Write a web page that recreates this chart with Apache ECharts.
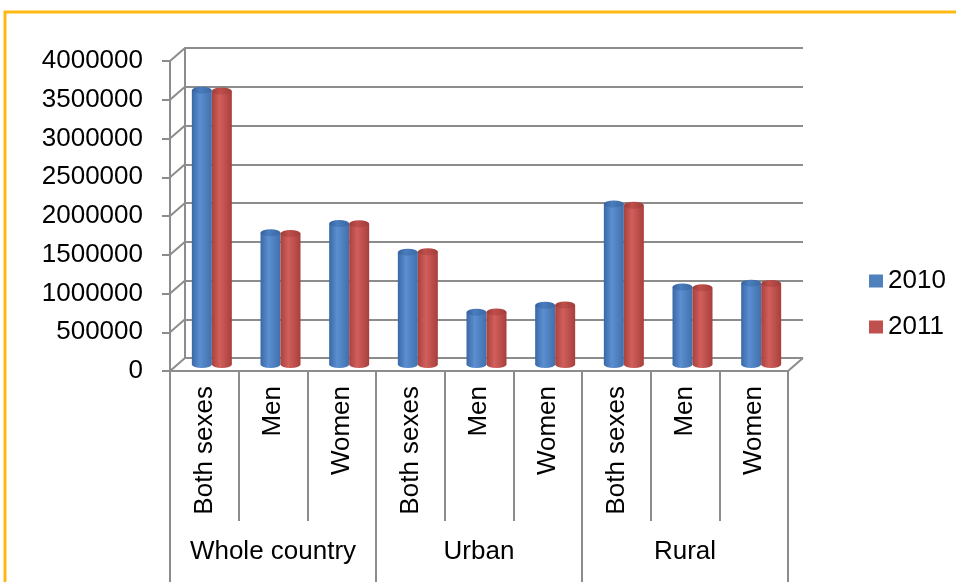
<!DOCTYPE html>
<html><head><meta charset="utf-8">
<script src="https://cdn.jsdelivr.net/npm/echarts@6/dist/echarts.min.js"></script>
<style>html,body{margin:0;padding:0;background:#fff}#c{width:956px;height:582px}</style>
</head><body><div id="c"></div>
<script>
// ---- data ----
const categories = ['Both sexes','Men','Women','Both sexes','Men','Women','Both sexes','Men','Women'];
const groups = ['Whole country','Urban','Rural'];
const seriesNames = ['2010','2011'];
const values2010 = [3540000,1700000,1820000,1450000,675000,765000,2070000,1000000,1050000];
const values2011 = [3530000,1690000,1815000,1455000,678000,768000,2055000,990000,1045000];
const yTicks = [0,500000,1000000,1500000,2000000,2500000,3000000,3500000,4000000];

// ---- layout / style ----
const FONT = "'Liberation Sans', Arial, sans-serif";
const GRID = '#8c8c8c';
const W = 618, H = 310, DX = 15, DY = 13;
const FRONT = {left:170, top:61};
const MID = {left:FRONT.left + DX/2, top:FRONT.top - DY/2};
const BACK = {left:FRONT.left + DX, top:FRONT.top - DY};
const yMin = yTicks[0], yMax = yTicks[yTicks.length-1], yStep = yTicks[1]-yTicks[0];

function cyl(c0, c1, c2){
  return {type:'linear', x:0, y:0, x2:1, y2:0, colorStops:[
    {offset:0, color:c0},{offset:0.4, color:c1},{offset:1, color:c2}]};
}
const barColors = [cyl('#3a68a6','#5b8fd1','#4070ad'), cyl('#a9413e','#d15f5b','#a83f3c')];
const topColors = [cyl('#34609c','#4a7dbd','#3a68a3'), cyl('#9c3b38','#bf4f4b','#a03d3a')];
const legendColors = ['#4F81BD','#C0504D'];
const data = [values2010, values2011];

const chart = echarts.init(document.getElementById('c'), null, {renderer:'canvas'});

const valAxis = (gi, extra) => Object.assign({
  type:'value', gridIndex:gi, min:yMin, max:yMax, interval:yStep,
  axisLine:{show:false}, axisTick:{show:false}, axisLabel:{show:false}, splitLine:{show:false}
}, extra);

const option = {
  animation:false,
  backgroundColor:'#fff',
  grid:[
    {left:FRONT.left, top:FRONT.top, width:W, height:H},
    {left:MID.left, top:MID.top, width:W, height:H},
    {left:BACK.left, top:BACK.top, width:W, height:H}
  ],
  xAxis:[
    {type:'category', gridIndex:0, data:categories, position:'bottom',
     axisLine:{show:true, lineStyle:{color:GRID, width:2}},
     axisTick:{show:true, interval:0, length:150, lineStyle:{color:GRID, width:2}},
     axisLabel:{interval:0, rotate:90, margin:15, color:'#000', fontSize:26, fontFamily:FONT}},
    {type:'category', gridIndex:0, data:groups, position:'bottom',
     axisLine:{show:false},
     axisTick:{show:true, interval:0, length:215, lineStyle:{color:GRID, width:2}},
     axisLabel:{interval:0, margin:168, color:'#000', fontSize:26, fontFamily:FONT}},
    {type:'category', gridIndex:1, data:categories, show:false},
    {type:'category', gridIndex:2, data:categories, show:false},
    {type:'category', gridIndex:1, data:categories, show:false}
  ],
  yAxis:[
    valAxis(0, {axisLine:{show:true, lineStyle:{color:GRID, width:2}},
      axisTick:{show:true, length:8, lineStyle:{color:GRID, width:2}},
      axisLabel:{show:true, margin:27, color:'#000', fontSize:26, fontFamily:FONT, formatter:v=>String(v)}}),
    valAxis(1),
    valAxis(2, {axisLine:{show:true, lineStyle:{color:GRID, width:2}},
      splitLine:{show:true, lineStyle:{color:GRID, width:2}}})
  ],
  legend:{
    orient:'vertical', left:864, top:263, itemWidth:14, itemHeight:13, itemGap:20,
    icon:'rect',
    textStyle:{color:'#000', fontSize:26, fontFamily:FONT},
    data:seriesNames.map((n,i)=>({name:n, itemStyle:{color:legendColors[i]}}))
  },
  series:[
    ...seriesNames.map((n,i)=>({
      name:n, type:'bar', xAxisIndex:2, yAxisIndex:1, data:data[i],
      barWidth:20, barGap:'0%', itemStyle:{color:barColors[i]}, z:2
    })),
    ...seriesNames.map((n,i)=>({
      name:n, type:'pictorialBar', xAxisIndex:2, yAxisIndex:1, data:data[i],
      barWidth:20, barGap:'0%', symbol:'circle', symbolSize:[20,7],
      symbolPosition:'end', symbolOffset:[0,'-50%'],
      itemStyle:{color:topColors[i]}, z:3
    })),
    ...seriesNames.map((n,i)=>({
      name:n, type:'pictorialBar', xAxisIndex:4, yAxisIndex:1, data:data[i],
      barWidth:20, barGap:'0%', symbol:'circle', symbolSize:[20,7],
      symbolPosition:'start', symbolOffset:[0,'50%'],
      itemStyle:{color:barColors[i]}, z:1
    }))
  ]
};
chart.setOption(option);

// depth connectors between front axis and back wall, computed from the axes
const lines = [];
yTicks.forEach(v=>{
  const yf = chart.convertToPixel({yAxisIndex:0}, v);
  const yb = chart.convertToPixel({yAxisIndex:2}, v);
  lines.push({type:'line', shape:{x1:FRONT.left, y1:yf, x2:BACK.left, y2:yb},
    style:{stroke:GRID, lineWidth:2}, z:0});
});
const y0f = chart.convertToPixel({yAxisIndex:0}, yMin);
const y0b = chart.convertToPixel({yAxisIndex:2}, yMin);
lines.push({type:'line', shape:{x1:FRONT.left+W, y1:y0f, x2:BACK.left+W, y2:y0b},
  style:{stroke:GRID, lineWidth:2}, z:0});
lines.push({type:'rect', shape:{x:5, y:12, width:1200, height:900},
  style:{fill:null, stroke:'#FDB913', lineWidth:3}, z:10});
chart.setOption({graphic:lines});
</script></body></html>
